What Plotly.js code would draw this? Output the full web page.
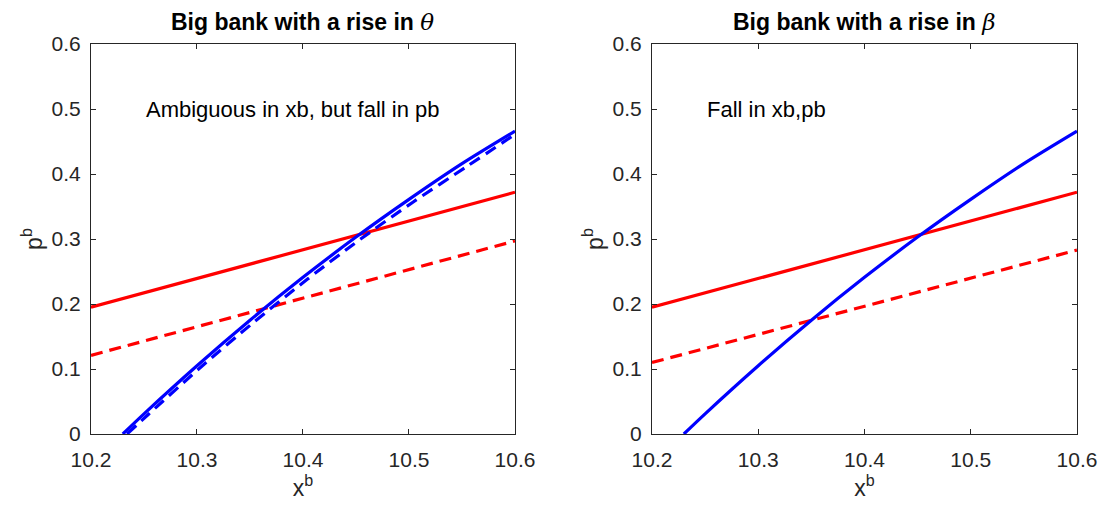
<!DOCTYPE html>
<html>
<head>
<meta charset="utf-8">
<script src="https://cdn.plot.ly/plotly-3.0.1.min.js"></script>
<style>html,body{margin:0;padding:0;background:#fff;}#chart{width:1103px;height:510px;}</style>
</head>
<body>
<div id="chart"></div>
<script>
// ---- data ----
const redX = [10.2, 10.6];
const redSolid = [0.195, 0.372];          // both panels
const redDashTheta = [0.121, 0.297];      // left panel dashed
const redDashBeta = [0.110, 0.283];       // right panel dashed

const blueX = [10.230, 10.25, 10.30, 10.35, 10.40, 10.45, 10.50, 10.55, 10.60];
const blueSolid = [0.000, 0.031, 0.105, 0.175, 0.241, 0.303, 0.361, 0.416, 0.466];
const blueDashX = [10.234, 10.254, 10.304, 10.354, 10.404, 10.454, 10.504, 10.554, 10.60];
const blueDash = [0.000, 0.030, 0.1035, 0.1725, 0.238, 0.2995, 0.357, 0.411, 0.461];

const xTicks = [10.2, 10.3, 10.4, 10.5, 10.6];
const yTicks = [0, 0.1, 0.2, 0.3, 0.4, 0.5, 0.6];
const titles = ['Big bank with a rise in <span style="font-family:\'DejaVu Serif\';font-style:italic;font-weight:normal">θ</span>',
                'Big bank with a rise in <span style="font-family:\'DejaVu Serif\';font-style:italic;font-weight:normal">β</span>'];
const notes = ['Ambiguous in xb, but fall in pb', 'Fall in xb,pb'];

const RED = '#ff0000', BLUE = '#0000ff';
const DASH = '12px,7px';
const FAM = 'Liberation Sans, Arial, sans-serif';

function tr(x, y, color, dash, xa, ya) {
  return {x: x, y: y, xaxis: xa, yaxis: ya, type: 'scatter', mode: 'lines',
          line: {color: color, width: 3.2, dash: dash, shape: 'spline', smoothing: 0.8},
          hoverinfo: 'skip', showlegend: false};
}

const data = [
  tr(redX, redSolid, RED, 'solid', 'x', 'y'),
  tr(redX, redDashTheta, RED, DASH, 'x', 'y'),
  tr(blueX, blueSolid, BLUE, 'solid', 'x', 'y'),
  tr(blueDashX, blueDash, BLUE, DASH, 'x', 'y'),
  tr(redX, redSolid, RED, 'solid', 'x2', 'y2'),
  tr(redX, redDashBeta, RED, DASH, 'x2', 'y2'),
  tr(blueX, blueSolid, BLUE, 'solid', 'x2', 'y2')
];

const tickFont = {family: FAM, size: 21, color: '#262626'};
function xax(dom) {
  return {domain: dom, range: [10.2, 10.6], tickvals: xTicks, ticktext: xTicks.map(v => v.toFixed(1)),
    ticks: 'inside', ticklen: 5, tickcolor: '#262626', showline: true, mirror: 'ticks',
    linecolor: '#262626', linewidth: 1, showgrid: false, zeroline: false, tickfont: tickFont,
    ticklabelstandoff: 7, automargin: false,
    title: {text: 'x<sup>b</sup>', font: {family: FAM, size: 23, color: '#262626'}, standoff: 6},
    fixedrange: true};
}
function yax(anchor) {
  return {domain: [0.149, 0.9137], range: [0, 0.6], tickvals: yTicks, ticktext: yTicks.map(v => v === 0 ? '0' : v.toFixed(1)),
    ticks: 'inside', ticklen: 5, tickcolor: '#262626', showline: true, mirror: 'ticks', anchor: anchor,
    linecolor: '#262626', linewidth: 1, showgrid: false, zeroline: false, tickfont: tickFont,
    ticklabelstandoff: 5, automargin: false,
    title: {text: 'p<sup>b</sup>', font: {family: FAM, size: 23, color: '#262626'}, standoff: 2},
    fixedrange: true};
}

const layout = {
  width: 1103, height: 510, paper_bgcolor: '#fff', plot_bgcolor: '#fff',
  margin: {l: 0, r: 0, t: 0, b: 0},
  xaxis: xax([0.0825, 0.4669]), yaxis: yax('x'),
  xaxis2: Object.assign(xax([0.5911, 0.9764]), {anchor: 'y2'}), yaxis2: yax('x2'),
  annotations: [
    {text: '<b>' + titles[0] + '</b>', xref: 'x domain', yref: 'paper', x: 0.5, y: 1 - 22/510, showarrow: false,
     xanchor: 'center', yanchor: 'middle', font: {family: FAM, size: 23, color: '#000'}},
    {text: '<b>' + titles[1] + '</b>', xref: 'x2 domain', yref: 'paper', x: 0.5, y: 1 - 22/510, showarrow: false,
     xanchor: 'center', yanchor: 'middle', font: {family: FAM, size: 23, color: '#000'}},
    {text: notes[0], xref: 'x', yref: 'y', x: 10.25, y: 0.5, showarrow: false, xanchor: 'left', yanchor: 'middle',
     font: {family: FAM, size: 22, color: '#000'}},
    {text: notes[1], xref: 'x2', yref: 'y2', x: 10.25, y: 0.5, showarrow: false, xanchor: 'left', yanchor: 'middle',
     font: {family: FAM, size: 22, color: '#000'}}
  ]
};

Plotly.newPlot('chart', data, layout, {displayModeBar: false, staticPlot: true});
</script>
</body>
</html>
